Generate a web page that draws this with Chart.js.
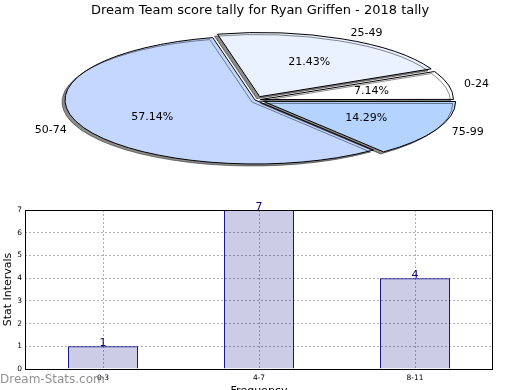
<!DOCTYPE html>
<html>
<head>
<meta charset="utf-8">
<script src="https://cdn.jsdelivr.net/npm/chart.js@4.4.1/dist/chart.umd.min.js"></script>
<style>
  html, body { margin: 0; padding: 0; background: #fff; overflow: hidden; width: 520px; height: 390px; }
  #pieChart { position: absolute; left: 0; top: 0; }
  #barChart { position: absolute; left: 0; top: 190px; }
</style>
</head>
<body>
<canvas id="pieChart" width="520" height="190"></canvas>
<canvas id="barChart" width="520" height="210"></canvas>
<script>
// score ranges (pie) and frequency bins (bar)
const pieTitle = 'Dream Team score tally for Ryan Griffen - 2018 tally';
const scoreRanges = ['0-24', '25-49', '50-74', '75-99'];
const scoreCounts = [1, 3, 8, 2];

const freqBins = ['0-3', '4-7', '8-11'];
const freqCounts = [1, 7, 4];
const freqMax = 7;

Chart.defaults.font.family = '"DejaVu Sans", sans-serif';
Chart.defaults.color = '#000';

const squash = 64 / 190; // pie is drawn as a flattened ellipse

// draws the pie squashed + shadowed, strokes kept at 1px
const ellipsePlugin = {
  id: 'ellipse',
  beforeDatasetsDraw(chart) {
    const ctx = chart.ctx;
    const arc = chart.getDatasetMeta(0).data[0];
    const base = ctx.getTransform();
    ctx.save();
    ctx.translate(arc.x, arc.y);
    ctx.scale(1, -squash);
    ctx.translate(-arc.x, -arc.y);
    ctx.shadowColor = 'rgba(0,0,0,0.45)';
    ctx.shadowOffsetX = -3;
    ctx.shadowOffsetY = 2;
    ctx.shadowBlur = 0;
    const stroke = ctx.stroke;
    ctx.stroke = function () {
      this.save();
      this.setTransform(base);
      stroke.apply(this, arguments);
      this.restore();
    };
  },
  afterDatasetsDraw(chart) {
    const ctx = chart.ctx;
    delete ctx.stroke;
    ctx.restore();
  },
  afterDraw(chart) {
    const ctx = chart.ctx;
    const meta = chart.getDatasetMeta(0);
    const total = scoreCounts.reduce((a, b) => a + b, 0);
    ctx.save();
    ctx.fillStyle = '#000';
    ctx.textBaseline = 'middle';
    // title centred on the whole figure
    ctx.font = '13px "DejaVu Sans"';
    ctx.textAlign = 'center';
    ctx.fillText(pieTitle, chart.width / 2, 11);
    ctx.font = '11px "DejaVu Sans"';
    meta.data.forEach((arc, i) => {
      const mid = (arc.startAngle + arc.endAngle) / 2;
      const shift = (arc.options.offset || 0) / 4;
      const at = r => [arc.x + Math.cos(mid) * (shift + r), arc.y - squash * Math.sin(mid) * (shift + r)];
      const [px, py] = at(arc.outerRadius * 0.6);
      ctx.textAlign = 'center';
      ctx.fillText((scoreCounts[i] / total * 100).toFixed(2) + '%', px, py);
      const [lx, ly] = at(arc.outerRadius * 1.1);
      ctx.textAlign = Math.cos(mid) >= 0 ? 'left' : 'right';
      ctx.fillText(scoreRanges[i], lx, ly);
    });
    ctx.restore();
  }
};

new Chart(document.getElementById('pieChart'), {
  type: 'pie',
  data: {
    labels: scoreRanges,
    datasets: [{
      data: scoreCounts,
      backgroundColor: ['#ffffff', '#eaf1ff', '#c4d8ff', '#b4d4ff'],
      borderColor: '#000',
      borderWidth: 1,
      borderJoinStyle: 'miter',
      offset: [22, 44, 0, 38],
      hoverOffset: 0,
      radius: 190,
      clip: false
    }]
  },
  options: {
    responsive: false,
    animation: false,
    rotation: 90,
    layout: { padding: { top: 22, right: 10, bottom: 12 } },
    plugins: {
      legend: { display: false },
      tooltip: { enabled: false }
    }
  },
  plugins: [ellipsePlugin]
});

// frame, value labels and watermark for the bar chart
const barExtras = {
  id: 'barExtras',
  afterDraw(chart) {
    const ctx = chart.ctx;
    const a = chart.chartArea;
    ctx.save();
    ctx.strokeStyle = '#000';
    ctx.lineWidth = 1;
    ctx.strokeRect(Math.round(a.left) + 0.5, Math.round(a.top) + 0.5, Math.round(a.right - a.left) - 1, Math.round(a.bottom - a.top));
    ctx.font = '11px "DejaVu Sans"';
    ctx.fillStyle = '#000080';
    ctx.textAlign = 'center';
    ctx.textBaseline = 'alphabetic';
    chart.getDatasetMeta(0).data.forEach((bar, i) => {
      ctx.fillText(String(freqCounts[i]), bar.x, bar.y);
    });
    ctx.font = '12px "DejaVu Sans"';
    ctx.fillStyle = 'rgba(110,110,110,0.75)';
    ctx.textAlign = 'left';
    ctx.textBaseline = 'middle';
    ctx.fillText('Dream-Stats.com', 0, 190);
    ctx.restore();
  }
};

new Chart(document.getElementById('barChart'), {
  type: 'bar',
  data: {
    labels: freqBins,
    datasets: [{
      data: freqCounts,
      backgroundColor: 'rgba(0,0,128,0.2)',
      borderColor: '#000080',
      borderWidth: 1,
      barPercentage: 0.45,
      categoryPercentage: 1
    }]
  },
  options: {
    responsive: false,
    animation: false,
    layout: { padding: { top: 20, right: 27 } },
    plugins: { legend: { display: false }, tooltip: { enabled: false } },
    scales: {
      x: {
        grid: { offset: false, color: '#b0b0b0', drawTicks: false },
        border: { display: false, dash: [2, 2] },
        ticks: { font: { size: 7.5 }, color: '#000', padding: 5, maxRotation: 0 },
        title: { display: true, text: 'Frequency', font: { size: 11 }, color: '#000', padding: { top: 0, bottom: 2 } },
        afterFit: s => { s.height = 31; }
      },
      y: {
        min: 0,
        max: freqMax,
        grid: { color: '#b0b0b0', drawTicks: false },
        border: { display: false, dash: [2, 2] },
        ticks: { stepSize: 1, font: { size: 7.5 }, color: '#000', padding: 3 },
        title: { display: true, text: 'Stat Intervals', font: { size: 11 }, color: '#000', padding: { top: 2, bottom: 0 } },
        afterFit: s => { s.width = 25; }
      }
    }
  },
  plugins: [barExtras]
});
</script>
</body>
</html>
